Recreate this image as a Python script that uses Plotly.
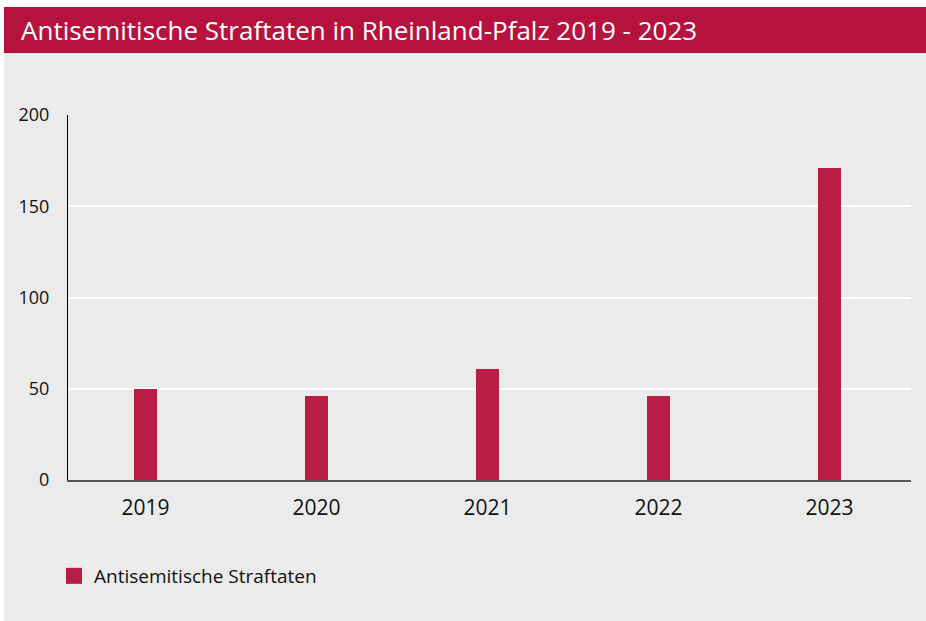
import plotly.graph_objects as go

years = ["2019", "2020", "2021", "2022", "2023"]
values = [50, 46, 61, 46, 171]
series_name = "Antisemitische Straftaten"
title_text = "Antisemitische Straftaten in Rheinland-Pfalz 2019 - 2023"
y_ticks = [0, 50, 100, 150, 200]

W, H = 926, 621
ML, MR, MT, MB = 68, 15, 115, 141
PW, PH = W - ML - MR, H - MT - MB

def px_x(p):
    return (p - ML) / PW

def px_y(p):
    return 1 - (p - MT) / PH

BAR = "#B81E44"
HEAD = "#B5133E"
BG = "#EBEBEB"
FONT = "Open Sans"

fig = go.Figure()
fig.add_trace(go.Bar(
    x=years, y=values, name=series_name, marker_color=BAR,
    marker_line_width=0, width=0.135, showlegend=False,
))
# legend entry with a larger square swatch
fig.add_trace(go.Scatter(
    x=[None], y=[None], mode="markers", name=series_name,
    marker=dict(symbol="square", size=16, color=BAR), showlegend=True,
))

shapes = [
    dict(type="rect", xref="paper", yref="paper", x0=px_x(0), x1=px_x(4), y0=px_y(0), y1=px_y(H),
         fillcolor="white", line_width=0, layer="below"),
    dict(type="rect", xref="paper", yref="paper", x0=px_x(0), x1=px_x(W), y0=px_y(0), y1=px_y(7),
         fillcolor="white", line_width=0, layer="below"),
    dict(type="rect", xref="paper", yref="paper", x0=px_x(4), x1=px_x(W), y0=px_y(7), y1=px_y(53),
         fillcolor=HEAD, line_width=0, layer="below"),
]

fig.update_layout(
    width=W, height=H,
    margin=dict(l=ML, r=MR, t=MT, b=MB, pad=0),
    paper_bgcolor=BG, plot_bgcolor=BG,
    font=dict(family=FONT, color="#111111"),
    shapes=shapes,
    bargap=0,
    annotations=[dict(
        text=title_text, xref="paper", yref="paper",
        x=px_x(19), y=px_y(30), xanchor="left", yanchor="middle",
        showarrow=False, font=dict(family=FONT, size=26, color="white"),
    )],
    showlegend=True,
    legend=dict(
        orientation="h", x=px_x(54), y=px_y(576), xanchor="left", yanchor="middle",
        font=dict(family=FONT, size=19, color="#111111"), bgcolor="rgba(0,0,0,0)",
    ),
    xaxis=dict(
        type="category", range=[-0.453, 4.477], showgrid=False,
        showline=True, linecolor="#555555", linewidth=2,
        ticks="", tickfont=dict(size=21, color="#111111"), ticklabelstandoff=8,
        zeroline=False, fixedrange=True,
    ),
    yaxis=dict(
        range=[0, 200], tickvals=y_ticks, showgrid=True, gridcolor="white", gridwidth=2,
        showline=True, linecolor="black", linewidth=1,
        ticks="", tickfont=dict(size=18, color="#111111"), ticklabelstandoff=14,
        zeroline=False, fixedrange=True,
    ),
)

fig.write_html("out.html")
